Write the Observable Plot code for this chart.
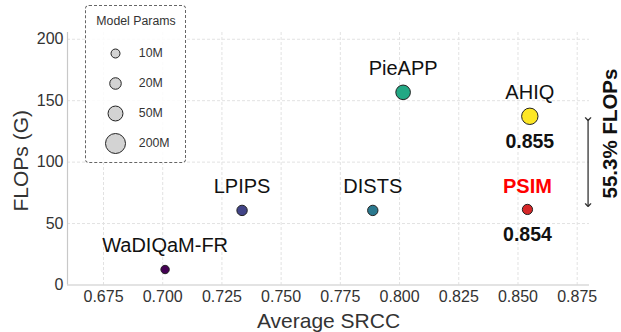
<!DOCTYPE html>
<html><head><meta charset="utf-8">
<script src="https://cdn.jsdelivr.net/npm/d3@7"></script>
<script src="https://cdn.jsdelivr.net/npm/@observablehq/plot@0.6"></script>
<style>
body{margin:0;background:#fff;}
#wrap{position:relative;width:621px;height:332px;font-family:"Liberation Sans",Arial,sans-serif;}
#wrap svg{position:absolute;overflow:visible;}
#legbox{position:absolute;left:85px;top:5px;width:101px;height:158px;box-sizing:border-box;border:1.3px dashed #666;border-radius:4px;background:rgba(255,255,255,0.85);}
</style></head><body><div id="wrap"><div id="legbox"></div></div>
<script>
// ---- data ----
const models = ["WaDIQaM-FR", "LPIPS", "DISTS", "PieAPP", "AHIQ", "PSIM"];
const srcc   = [0.701, 0.7335, 0.7887, 0.8015, 0.855, 0.854];
const flops  = [12.6, 60.7, 60.7, 156.8, 137.3, 61.5];
const params = [8.5, 14.7, 14.6, 46, 75, 14];
const colors = ["#440154", "#414487", "#2a788e", "#22a884", "#fde725", "#d62728"];
const highlighted = "PSIM";
const scoredModels = ["AHIQ", "PSIM"];
const legendLabels = ["10M", "20M", "50M", "200M"];
const legendParams = [10, 20, 50, 200];
const xTicks = [0.675, 0.700, 0.725, 0.750, 0.775, 0.800, 0.825, 0.850, 0.875];
const yTicks = [0, 50, 100, 150, 200];
const xDomain = [0.6598, 0.8802];
const yDomain = [0, 205.5];
const gapArrow = [{x: 0.8796, from: 135, to: 65}];
const gapNote = [{x: 0.8891, y: 123.3, text: "55.3% FLOPs"}];

const data = models.map((m, i) => ({model: m, srcc: srcc[i], flops: flops[i], params: params[i], color: colors[i]}));
const legendItems = legendLabels.map((l, i) => ({label: l, params: legendParams[i]}));
const fmt3 = d3.format(".3f");
const font = '"Liberation Sans", Arial, sans-serif';
const rScale = {type: "log", domain: [10, 200], range: [4.5, 10]};
const gridStyle = {stroke: "#e2e2e2", strokeDasharray: "3,2", strokeWidth: 1};

const chart = Plot.plot({
  width: 621, height: 332,
  marginLeft: 67, marginRight: 32, marginTop: 32, marginBottom: 47.5,
  style: {fontFamily: font, fontSize: "16px", color: "#333", background: "transparent"},
  x: {domain: xDomain, ticks: xTicks, tickFormat: fmt3, tickSize: 0, tickPadding: 5.5, label: null},
  y: {domain: yDomain, ticks: yTicks, tickSize: 0, tickPadding: 4, label: null},
  r: rScale,
  color: {type: "identity"},
  marks: [
    Plot.ruleX(xTicks, gridStyle),
    Plot.ruleY(yTicks.filter(d => d > 0), gridStyle),
    Plot.ruleY([yDomain[0]], {stroke: "#c8c8c8", strokeWidth: 1.2}),
    Plot.ruleX([xDomain[0]], {stroke: "#c8c8c8", strokeWidth: 1.2}),
    Plot.dot(data, {x: "srcc", y: "flops", r: "params", fill: "color", stroke: "#222", strokeWidth: 1}),
    Plot.text(data.filter(d => d.model !== highlighted), {x: "srcc", y: "flops", text: "model", dy: -24, fontSize: 20, fill: "#111"}),
    Plot.text(data.filter(d => d.model === highlighted), {x: "srcc", y: "flops", text: "model", dy: -23, fontSize: 20, fontWeight: "bold", fill: "#ff0000"}),
    Plot.text(data.filter(d => scoredModels.includes(d.model)), {x: "srcc", y: "flops", text: d => fmt3(d.srcc), dy: 25, fontSize: 19.5, fontWeight: "bold", fill: "#111"}),
    Plot.link(gapArrow, {x1: "x", x2: "x", y1: "from", y2: "to", markerStart: "arrow", markerEnd: "arrow", stroke: "#333", strokeWidth: 1.3}),
    Plot.text(gapNote, {x: "x", y: "y", text: "text", rotate: -90, fontSize: 20.5, fontWeight: "bold", fill: "#111"}),
    Plot.text(["Average SRCC"], {text: d => d, frameAnchor: "bottom", lineAnchor: "middle", textAnchor: "middle", dy: 36, fontSize: 21, fill: "#333"}),
    Plot.text(["FLOPs (G)"], {text: d => d, frameAnchor: "left", lineAnchor: "middle", textAnchor: "middle", dx: -46, dy: 2, rotate: -90, fontSize: 21, fill: "#333"})
  ]
});
chart.style.left = "0px"; chart.style.top = "0px";
const wrap = document.getElementById("wrap");
wrap.insertBefore(chart, wrap.firstChild);

const legend = Plot.plot({
  width: 101, height: 158, margin: 0,
  style: {fontFamily: font, fontSize: "12px", color: "#333", background: "transparent"},
  y: {type: "point", domain: legendLabels, range: [47.3, 139.3], padding: 0, axis: null},
  r: rScale,
  marks: [
    Plot.text(["Model Params"], {text: d => d, frameAnchor: "top", lineAnchor: "middle", dy: 15.7, fontSize: 12.3, fill: "#333"}),
    Plot.dot(legendItems, {y: "label", r: "params", frameAnchor: "left", dx: 30, fill: "#d3d3d3", stroke: "#222", strokeWidth: 1}),
    Plot.text(legendItems, {y: "label", text: "label", frameAnchor: "left", lineAnchor: "middle", dx: 53.3, textAnchor: "start", fontSize: 12.3, fill: "#333"})
  ]
});
legend.style.left = "85px"; legend.style.top = "5px";
wrap.appendChild(legend);
</script>
</body></html>
